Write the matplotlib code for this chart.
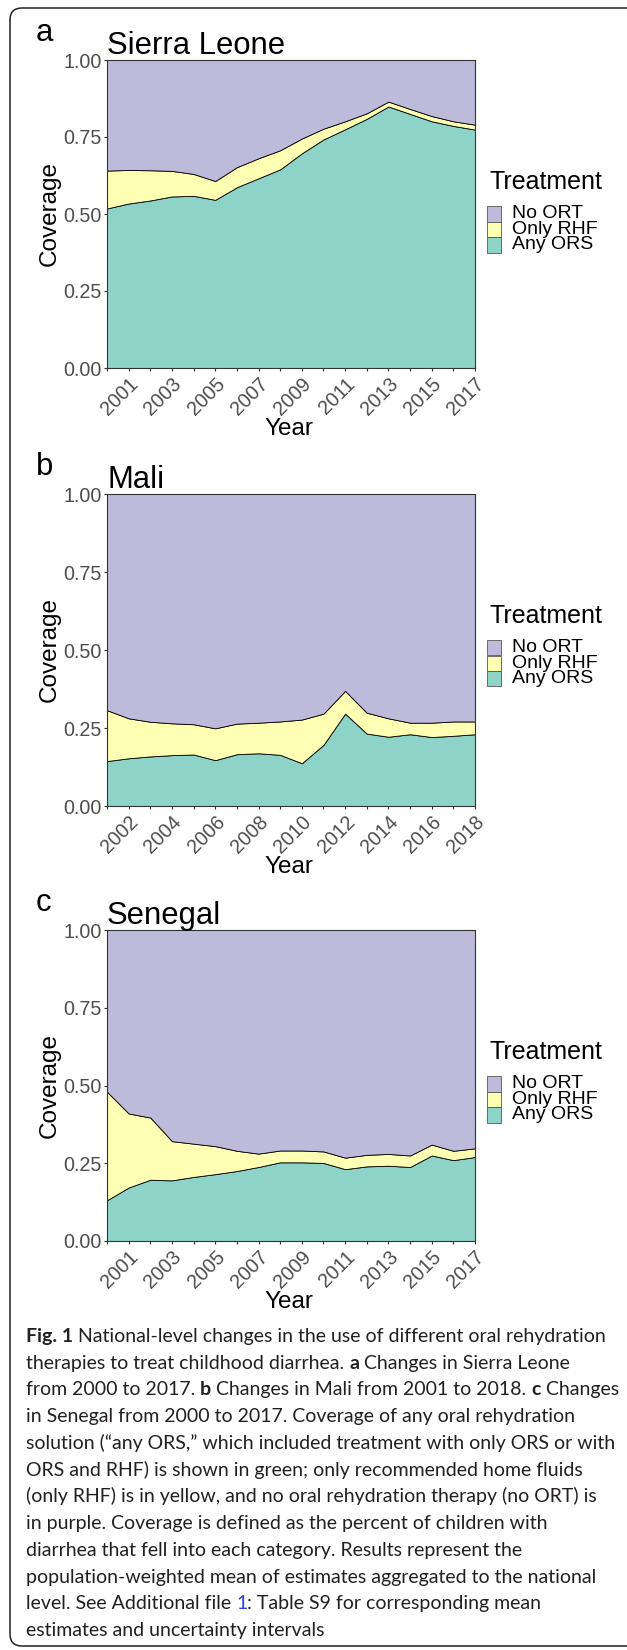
import matplotlib
matplotlib.use("Agg")
import matplotlib.pyplot as plt
import numpy as np
from matplotlib.patches import FancyBboxPatch, Rectangle
from matplotlib.transforms import IdentityTransform

# ---------------- data ----------------
sl_years = list(range(2000, 2018))
sl_any_ors = [0.518, 0.534, 0.544, 0.557, 0.559, 0.546, 0.587, 0.616, 0.645,
              0.697, 0.742, 0.775, 0.809, 0.849, 0.825, 0.801, 0.786, 0.774]
sl_only_rhf = [0.123, 0.109, 0.098, 0.083, 0.071, 0.061, 0.065, 0.065, 0.062,
               0.048, 0.035, 0.026, 0.018, 0.016, 0.016, 0.017, 0.015, 0.016]

ml_years = list(range(2001, 2019))
ml_any_ors = [0.144, 0.153, 0.159, 0.163, 0.165, 0.147, 0.166, 0.169, 0.164,
              0.137, 0.196, 0.296, 0.232, 0.222, 0.230, 0.221, 0.225, 0.230]
ml_only_rhf = [0.163, 0.128, 0.111, 0.102, 0.097, 0.102, 0.098, 0.098, 0.107,
               0.140, 0.100, 0.073, 0.067, 0.059, 0.037, 0.046, 0.046, 0.041]

sn_years = list(range(2000, 2018))
sn_any_ors = [0.131, 0.172, 0.197, 0.195, 0.206, 0.215, 0.225, 0.238, 0.253,
              0.253, 0.251, 0.231, 0.240, 0.242, 0.238, 0.275, 0.260, 0.270]
sn_only_rhf = [0.349, 0.238, 0.200, 0.126, 0.107, 0.090, 0.065, 0.043, 0.038,
               0.038, 0.037, 0.037, 0.037, 0.038, 0.037, 0.035, 0.030, 0.028]

panel_letters = ["a", "b", "c"]
countries = ["Sierra Leone", "Mali", "Senegal"]
legend_labels = ["No ORT", "Only RHF", "Any ORS"]
y_ticks = [0.0, 0.25, 0.5, 0.75, 1.0]
y_ticklabels = ["0.00", "0.25", "0.50", "0.75", "1.00"]

caption_lines = [
    [("Fig. 1", "bold", None), (" National-level changes in the use of different oral rehydration", "normal", None)],
    [("therapies to treat childhood diarrhea. ", "normal", None), ("a", "bold", None), (" Changes in Sierra Leone", "normal", None)],
    [("from 2000 to 2017. ", "normal", None), ("b", "bold", None), (" Changes in Mali from 2001 to 2018. ", "normal", None), ("c", "bold", None), (" Changes", "normal", None)],
    [("in Senegal from 2000 to 2017. Coverage of any oral rehydration", "normal", None)],
    [("solution (\u201cany ORS,\u201d which included treatment with only ORS or with", "normal", None)],
    [("ORS and RHF) is shown in green; only recommended home fluids", "normal", None)],
    [("(only RHF) is in yellow, and no oral rehydration therapy (no ORT) is", "normal", None)],
    [("in purple. Coverage is defined as the percent of children with", "normal", None)],
    [("diarrhea that fell into each category. Results represent the", "normal", None)],
    [("population-weighted mean of estimates aggregated to the national", "normal", None)],
    [("level. See Additional file ", "normal", None), ("1", "normal", "#2a3fd6"), (": Table S9 for corresponding mean", "normal", None)],
    [("estimates and uncertainty intervals", "normal", None)],
]

# ---------------- style ----------------
W, H = 627, 1650
C_ORS, C_RHF, C_NO = "#8DD3C7", "#FFFFB3", "#BEBADA"
SANS = ["Liberation Sans", "DejaVu Sans"]
CAPFONT = ["Lato", "DejaVu Sans"]
TXT = "#231f20"

fig = plt.figure(figsize=(W / 100, H / 100), dpi=100)
fig.patch.set_facecolor("white")


def fx(x):
    return x / W


def fy(y):
    return 1 - y / H


panels = [
    (sl_years, sl_any_ors, sl_only_rhf, 60, 368),
    (ml_years, ml_any_ors, ml_only_rhf, 494, 806),
    (sn_years, sn_any_ors, sn_only_rhf, 930, 1241),
]
AX_L, AX_R = 107, 475

for i, (yrs, ors, rhf, top, bot) in enumerate(panels):
    ax = fig.add_axes([fx(AX_L), fy(bot), (AX_R - AX_L) / W, (bot - top) / H])
    ors_a = np.array(ors)
    rhf_a = np.array(rhf)
    no_a = 1 - ors_a - rhf_a
    ax.stackplot(yrs, ors_a, rhf_a, no_a, colors=[C_ORS, C_RHF, C_NO],
                 edgecolor="black", linewidth=0.6)
    ax.set_xlim(yrs[0], yrs[-1])
    ax.set_ylim(0, 1)
    ax.set_xticks(yrs)
    first_lab = yrs[0] + 1
    ax.set_xticklabels([str(y) if (y - first_lab) % 2 == 0 else "" for y in yrs],
                       rotation=45, ha="right", va="top", rotation_mode="anchor",
                       fontsize=14.2, color="#4d4d4d", family=SANS)
    ax.set_yticks(y_ticks)
    ax.set_yticklabels(y_ticklabels, fontsize=14.2, color="#4d4d4d", family=SANS)
    ax.tick_params(axis="both", length=2.5, width=0.8, color="#333333")
    ax.tick_params(axis="y", pad=1.2)
    ax.tick_params(axis="x", pad=2.0)
    for s in ax.spines.values():
        s.set_color("#333333")
        s.set_linewidth(0.8)
    ax.set_xlabel("")
    ax.set_ylabel("")

    # axis titles
    fig.text(fx((AX_L + AX_R) / 2 - 2), fy(bot + 61), "Year", ha="center", va="center",
             fontsize=17.5, family=SANS, color="black")
    fig.text(fx(50), fy((top + bot) / 2), "Coverage", ha="center", va="center",
             rotation=90, fontsize=17.5, family=SANS, color="black")
    # title and panel letter
    fig.text(fx(AX_L), fy(top - 6), countries[i], ha="left", va="baseline",
             fontsize=22.3, family=SANS, color="black")
    fig.text(fx(36), fy(top - 19), panel_letters[i], ha="left", va="baseline",
             fontsize=22.3, family=SANS, color="black")

    # legend
    fig.text(fx(490), fy(top + 122), "Treatment", ha="left", va="center",
             fontsize=18, family=SANS, color="black")
    key_cols = [C_NO, C_RHF, C_ORS]
    k_top = top + 146
    kh = 15.5
    for j, (lab, col) in enumerate(zip(legend_labels, key_cols)):
        y0 = k_top + j * kh
        r = Rectangle((fx(487), fy(y0 + kh)), 14 / W, kh / H, transform=fig.transFigure,
                      facecolor=col, edgecolor="#555555", linewidth=0.6)
        fig.add_artist(r)
        fig.text(fx(512), fy(y0 + kh / 2), lab, ha="left", va="center",
                 fontsize=14, family=SANS, color="black")

# border
border = FancyBboxPatch((10, H - 1646), 660, 1638,
                        boxstyle="round,pad=0,rounding_size=12",
                        transform=IdentityTransform(), facecolor="none",
                        edgecolor="#222222", linewidth=1.1)
fig.add_artist(border)

# caption
renderer = fig.canvas.get_renderer()
ref_size = 12.0
widths = []
for line in caption_lines:
    tot = 0
    for txt, wt, col in line:
        t = fig.text(0, 0, txt, fontsize=ref_size, fontweight=wt, family=CAPFONT)
        tot += t.get_window_extent(renderer).width
        t.remove()
    widths.append(tot)
cap_size = ref_size * 589.0 / max(widths)

for li, line in enumerate(caption_lines):
    x = 26
    yc = 1336 + 26.73 * li
    for txt, wt, col in line:
        t = fig.text(fx(x), fy(yc + 6), txt, fontsize=cap_size, fontweight=wt,
                     color=col if col else TXT, family=CAPFONT, ha="left", va="baseline")
        x += t.get_window_extent(renderer).width

fig.savefig("out.png", dpi=100)
